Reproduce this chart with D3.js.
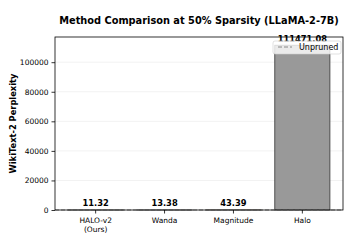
<!DOCTYPE html>
<html>
<head>
<meta charset="utf-8">
<script src="https://cdn.jsdelivr.net/npm/d3@7"></script>
<style>
  body { margin: 0; background: #fff; }
  text { font-family: "DejaVu Sans", sans-serif; }
</style>
</head>
<body>
<div id="chart"></div>
<script>
// data
const methods = ['HALO-v2\n(Ours)', 'Wanda', 'Magnitude', 'Halo'];
const perplexity = [11.32, 13.38, 43.39, 111471.08];
const barColors = ['#2ca02c', '#1f77b4', '#ff7f0e', '#999999'];
const unpruned = 5.47;
const yTicks = [0, 20000, 40000, 60000, 80000, 100000];

const width = 350;
const height = 250;
const margin = {top: 37, right: 7, bottom: 40, left: 55};
const chartWidth = width - margin.left - margin.right;
const chartHeight = height - margin.top - margin.bottom;

const svg = d3.select('#chart')
  .append('svg')
    .attr('width', width)
    .attr('height', height);

const g = svg.append('g')
    .attr('transform', `translate(${margin.left},${margin.top})`);

const xScale = d3.scaleBand()
    .domain(methods)
    .range([0, chartWidth])
    .paddingInner(0.2)
    .paddingOuter(0.19);

const yScale = d3.scaleLinear()
    .domain([0, d3.max(perplexity) * 1.05])
    .range([chartHeight, 0]);

// grid
g.append('g')
  .selectAll('line')
  .data(yTicks)
  .join('line')
    .attr('x1', 0)
    .attr('x2', chartWidth)
    .attr('y1', d => yScale(d))
    .attr('y2', d => yScale(d))
    .attr('stroke', '#b0b0b0')
    .attr('stroke-opacity', 0.3)
    .attr('stroke-width', 0.6);

// bars
const rows = methods.map((m, i) => ({method: m, value: perplexity[i], color: barColors[i]}));

g.append('g')
  .selectAll('rect')
  .data(rows)
  .join('rect')
    .attr('x', d => xScale(d.method))
    .attr('y', d => yScale(d.value))
    .attr('width', xScale.bandwidth())
    .attr('height', d => chartHeight - yScale(d.value))
    .attr('fill', d => d.color)
    .attr('stroke', '#333')
    .attr('stroke-width', 0.8);

// unpruned reference line
g.append('line')
    .attr('x1', 0)
    .attr('x2', chartWidth)
    .attr('y1', yScale(unpruned))
    .attr('y2', yScale(unpruned))
    .attr('stroke', '#888')
    .attr('stroke-width', 1)
    .attr('stroke-dasharray', '4,2');

// value labels
g.append('g')
  .selectAll('text')
  .data(rows)
  .join('text')
    .attr('x', d => xScale(d.method) + xScale.bandwidth() / 2)
    .attr('y', d => yScale(d.value) - 3.5)
    .attr('text-anchor', 'middle')
    .attr('font-size', 8.3)
    .attr('font-weight', 'bold')
    .text(d => d.value.toFixed(2));

// axes
const yAxis = d3.axisLeft(yScale)
    .tickValues(yTicks)
    .tickFormat(d3.format('d'))
    .tickSize(3.5)
    .tickPadding(3);

const yG = g.append('g').call(yAxis);
yG.select('.domain').remove();
yG.selectAll('text').attr('font-size', 7.5).attr('fill', '#000');
yG.selectAll('line').attr('stroke', '#000').attr('stroke-width', 0.8);

const xAxis = d3.axisBottom(xScale)
    .tickSize(3.5)
    .tickPadding(3)
    .tickFormat('');

const xG = g.append('g')
    .attr('transform', `translate(0,${chartHeight})`)
    .call(xAxis);
xG.select('.domain').remove();
xG.selectAll('line').attr('stroke', '#000').attr('stroke-width', 0.8);

xG.selectAll('.tick')
  .append('text')
    .attr('fill', '#000')
    .attr('font-size', 7.5)
    .attr('text-anchor', 'middle')
    .selectAll('tspan')
    .data(d => d.split('\n'))
    .join('tspan')
      .attr('x', 0)
      .attr('y', (d, i) => 13 + i * 9)
      .text(d => d);

// frame
g.append('rect')
    .attr('width', chartWidth)
    .attr('height', chartHeight)
    .attr('fill', 'none')
    .attr('stroke', '#000')
    .attr('stroke-width', 0.8);

// legend
const legend = g.append('g')
    .attr('transform', `translate(${chartWidth - 70},4)`);
legend.append('rect')
    .attr('width', 68)
    .attr('height', 13)
    .attr('rx', 2)
    .attr('fill', '#fff')
    .attr('fill-opacity', 0.8)
    .attr('stroke', '#ccc')
    .attr('stroke-width', 0.6);
legend.append('line')
    .attr('x1', 5)
    .attr('x2', 19)
    .attr('y1', 6)
    .attr('y2', 6)
    .attr('stroke', '#888')
    .attr('stroke-width', 1)
    .attr('stroke-dasharray', '4,2');
legend.append('text')
    .attr('x', 26)
    .attr('y', 9)
    .attr('font-size', 8)
    .text('Unpruned');

// title
svg.append('text')
    .attr('x', margin.left + chartWidth / 2)
    .attr('y', 24)
    .attr('text-anchor', 'middle')
    .attr('font-size', 9.8)
    .attr('font-weight', 'bold')
    .text('Method Comparison at 50% Sparsity (LLaMA-2-7B)');

// y label
svg.append('text')
    .attr('transform', `translate(16,${margin.top + chartHeight / 2}) rotate(-90)`)
    .attr('text-anchor', 'middle')
    .attr('font-size', 8.3)
    .attr('font-weight', 'bold')
    .text('WikiText-2 Perplexity');
</script>
</body>
</html>
